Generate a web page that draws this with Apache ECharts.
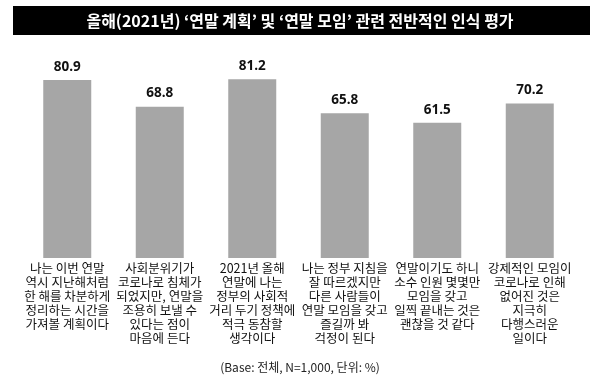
<!DOCTYPE html>
<html>
<head>
<meta charset="utf-8">
<script src="https://cdn.jsdelivr.net/npm/echarts@6/dist/echarts.min.js"></script>
<style>html,body{margin:0;padding:0;background:#fff}#c{width:600px;height:384px}</style>
</head>
<body>
<div id="c"></div>
<script>
var titleText = "올해(2021년) ‘연말 계획’ 및 ‘연말 모임’ 관련 전반적인 인식 평가";
var categories = [
  "나는 이번 연말\n역시 지난해처럼\n한 해를 차분하게\n정리하는 시간을\n가져볼 계획이다",
  "사회분위기가\n코로나로 침체가\n되었지만, 연말을\n조용히 보낼 수\n있다는 점이\n마음에 든다",
  "2021년 올해\n연말에 나는\n정부의 사회적\n거리 두기 정책에\n적극 동참할\n생각이다",
  "나는 정부 지침을\n잘 따르겠지만\n다른 사람들이\n연말 모임을 갖고\n즐길까 봐\n걱정이 된다",
  "연말이기도 하니\n소수 인원 몇몇만\n모임을 갖고\n일찍 끝내는 것은\n괜찮을 것 같다",
  "강제적인 모임이\n코로나로 인해\n없어진 것은\n지극히\n다행스러운\n일이다"
];
var values = [80.9, 68.8, 81.2, 65.8, 61.5, 70.2];
var footnote = "(Base: 전체, N=1,000, 단위: %)";

var KR = '"Noto Sans CJK KR", "Noto Sans", sans-serif';
var chart = echarts.init(document.getElementById('c'), null, {renderer: 'canvas'});
chart.setOption({
  animation: false,
  backgroundColor: '#ffffff',
  graphic: [
    {type: 'rect', shape: {x: 13, y: 6, width: 577, height: 29}, style: {fill: '#000000'}, z: 0},
    {type: 'text', left: 'center', top: 361, style: {text: footnote, font: '12px ' + KR, fill: '#222222'}}
  ],
  title: {
    text: titleText,
    left: 'center',
    top: 8,
    textStyle: {color: '#ffffff', fontSize: 16, fontWeight: 'bold', fontFamily: KR}
  },
  grid: {left: 21, right: 24, top: 38, bottom: 126},
  xAxis: {
    type: 'category',
    data: categories,
    axisLine: {show: false},
    axisTick: {show: false},
    axisLabel: {interval: 0, margin: 3, fontSize: 12.5, lineHeight: 14, color: '#111111', fontFamily: KR, verticalAlign: 'top'}
  },
  yAxis: {type: 'value', min: 0, max: 100, show: false, splitLine: {show: false}},
  series: [{
    type: 'bar',
    data: values,
    barWidth: 48,
    itemStyle: {color: '#a6a6a6'},
    label: {show: true, position: 'top', distance: 6, fontSize: 13.5, fontWeight: 'bold', color: '#111111', fontFamily: '"Open Sans", sans-serif'}
  }]
});
</script>
</body>
</html>
